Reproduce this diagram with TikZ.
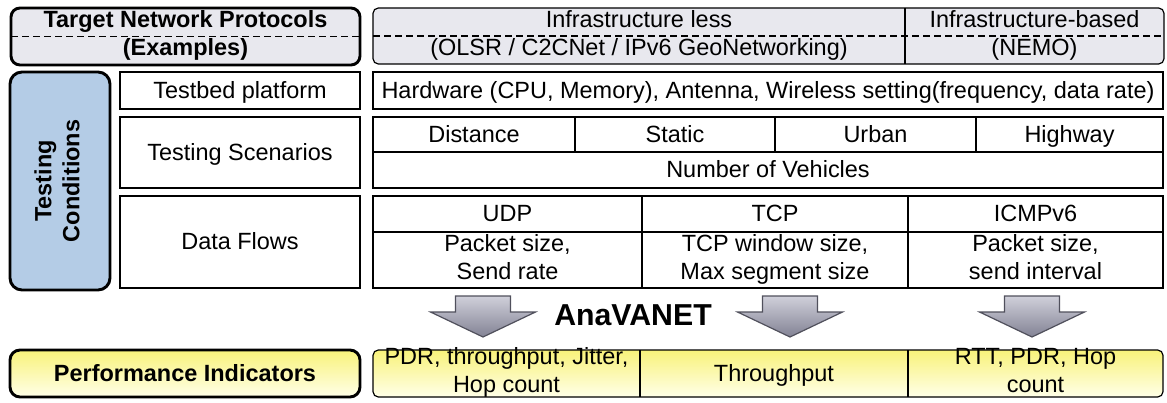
\documentclass[tikz,border=0pt]{standalone}
\usepackage{fontspec}
\setmainfont{Liberation Sans}

\definecolor{boxgray}{RGB}{232,232,238}
\definecolor{boxblue}{RGB}{180,204,230}
\definecolor{yeltop}{RGB}{248,242,122}
\definecolor{yelbot}{RGB}{255,255,232}
\definecolor{arrtop}{RGB}{208,208,218}
\definecolor{arrbot}{RGB}{130,130,148}
\definecolor{arrline}{RGB}{80,80,92}

\newcommand{\cellstrut}{\rule[-4.8pt]{0pt}{21pt}}

\begin{document}
\begin{tikzpicture}[x=0.75pt,y=0.75pt,yscale=-1,xscale=1,
    every node/.style={font=\fontsize{17.6}{21}\selectfont, inner sep=0pt, outer sep=0pt, align=center,
        execute at begin node=\cellstrut, execute at end node=\cellstrut},
    cellsz/.style 2 args={anchor=north west, minimum width=#1*0.75pt, minimum height=#2*0.75pt},
    cellbox/.style={draw, line width=0.9pt},
    thickbox/.style={draw, line width=2.2pt},
    dashline/.style={line width=1.1pt, dash pattern=on 5.25pt off 3pt},
    yellowfill/.style={top color=yeltop, bottom color=yelbot},
    flowarrow/.style={draw=arrline, line width=0.9pt, top color=arrtop, bottom color=arrbot, line join=miter}
]
    \useasboundingbox (0,0) rectangle (1167,403);

    %Shape: Rounded Rect [Target Network Protocols]
    \node[thickbox, fill=boxgray, rounded corners=6.75pt, cellsz={349}{57}] (tnp) at (11,8) {};
    \node[font=\fontsize{17.6}{21}\selectfont\bfseries] (tnptext) at (tnp.center) {Target Network Protocols\\(Examples)};
    \draw[dashline] (tnp.west) -- (tnp.east);

    %Shape: Rounded Rect [protocol examples]
    \node[cellbox, fill=boxgray, rounded corners=4pt, cellsz={791}{56}] (proto) at (373,8) {};
    \node (infl) at (639,36) {Infrastructure less\\(OLSR / C2CNet / IPv6 GeoNetworking)};
    \node (infb) at (1034.5,36) {Infrastructure-based\\(NEMO)};
    \draw[line width=0.9pt] (905,0 |- proto.north) -- (905,0 |- proto.south);
    \draw[dashline] (proto.west) -- (proto.east);

    %Shape: Rounded Rect [Testing Conditions]
    \node[thickbox, fill=boxblue, rounded corners=9pt, cellsz={100}{218}] (tc) at (10,72) {};
    \node[rotate=90, font=\fontsize{17.6}{21}\selectfont\bfseries] (tctext) at (tc.center) {Testing\\Conditions};

    % Text Node [row labels]
    \node[cellbox, cellsz={240}{37}] (lab1) at (120,72) {Testbed platform};
    \node[cellbox, cellsz={240}{71}] (lab2) at (120,117) {Testing Scenarios};
    \node[cellbox, cellsz={240}{92}] (lab3) at (120,196) {Data Flows};

    % Text Node [testbed]
    \node[cellbox, cellsz={790}{37}] (hw) at (373,72)
        {Hardware (CPU, Memory), Antenna, Wireless setting(frequency, data rate)};

    % Text Node [scenarios]
    \node[cellbox, cellsz={202}{35}] (dist) at (373,117) {Distance};
    \node[cellbox, cellsz={200}{35}] (stat) at (575,117) {Static};
    \node[cellbox, cellsz={201}{35}] (urb) at (775,117) {Urban};
    \node[cellbox, cellsz={187}{35}] (hwy) at (976,117) {Highway};
    \node[cellbox, cellsz={790}{36}] (nveh) at (373,152) {Number of Vehicles};

    % Text Node [data flows]
    \node[cellbox, cellsz={269}{36}] (udp) at (373,196) {UDP};
    \node[cellbox, cellsz={266}{36}] (tcp) at (642,196) {TCP};
    \node[cellbox, cellsz={255}{36}] (icmp) at (908,196) {ICMPv6};
    \node[cellbox, cellsz={269}{56}] (udpp) at (373,232) {Packet size,\\Send rate};
    \node[cellbox, cellsz={266}{56}] (tcpp) at (642,232) {TCP window size,\\Max segment size};
    \node[cellbox, cellsz={255}{56}] (icmpp) at (908,232) {Packet size,\\send interval};

    %Shape: Down Arrow [1]
    \draw[flowarrow] (455.5,296) -- (510.5,296) -- (510.5,312) -- (535.5,312) -- (483,337) -- (430.5,312) -- (455.5,312) -- cycle;
    %Shape: Down Arrow [2]
    \draw[flowarrow] (762.5,296) -- (817.5,296) -- (817.5,312) -- (842.5,312) -- (790,337) -- (737.5,312) -- (762.5,312) -- cycle;
    %Shape: Down Arrow [3]
    \draw[flowarrow] (1004.5,296) -- (1059.5,296) -- (1059.5,312) -- (1084.5,312) -- (1032,337) -- (979.5,312) -- (1004.5,312) -- cycle;

    % Text Node [tool]
    \node[font=\fontsize{22.7}{26}\selectfont\bfseries, execute at begin node={}, execute at end node={}] (ana) at (633,318) {AnaVANET};

    %Shape: Rounded Rect [Performance Indicators]
    \node[thickbox, yellowfill, rounded corners=7.5pt, cellsz={350}{47}] (perf) at (10,350)
        {\textbf{Performance Indicators}};

    %Shape: Rounded Rect [indicators]
    \node[cellbox, yellowfill, rounded corners=4pt, cellsz={790}{47}] (perfv) at (373,350) {};
    \node (pdr) at (506.5,373.5) {PDR, throughput, Jitter,\\Hop count};
    \node (thr) at (774,373.5) {Throughput};
    \node (rtt) at (1035.5,373.5) {RTT, PDR, Hop\\count};
    \draw[line width=0.9pt] (640,0 |- perfv.north) -- (640,0 |- perfv.south);
    \draw[line width=0.9pt] (908,0 |- perfv.north) -- (908,0 |- perfv.south);

\end{tikzpicture}
\end{document}
